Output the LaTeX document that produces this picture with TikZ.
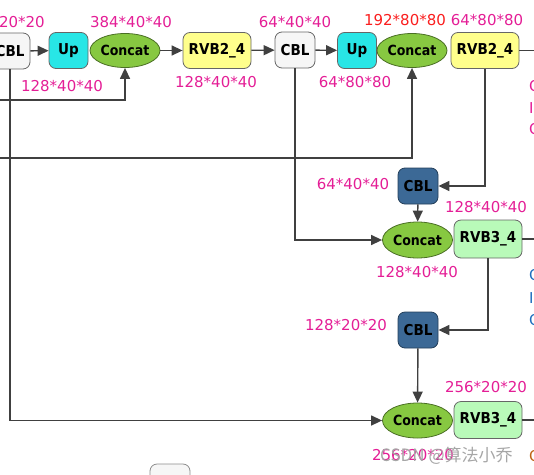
\documentclass[tikz,border=0pt]{standalone}
\usepackage{fontspec}
\setmainfont{DejaVu Sans}
\newfontfamily\nodefont[BoldFont={DejaVu Sans Condensed Bold}]{DejaVu Sans Condensed}
\newfontfamily\cjkfont{Noto Sans CJK SC}
\usetikzlibrary{arrows.meta,shapes.geometric}
\definecolor{lblmag}{RGB}{228,30,150}
\definecolor{lblred}{RGB}{250,30,30}
\definecolor{lblblue}{RGB}{30,110,190}
\definecolor{lblorange}{RGB}{190,100,20}
\definecolor{upcyan}{RGB}{40,230,230}
\definecolor{catgreen}{RGB}{135,200,65}
\definecolor{rvbyellow}{RGB}{255,255,140}
\definecolor{rvbgreen}{RGB}{185,250,185}
\definecolor{cblblue}{RGB}{60,105,150}
\definecolor{cblwhite}{RGB}{246,246,246}
\definecolor{linegray}{RGB}{64,64,64}
\tikzset{
  x=1pt,y=-1pt,
  blk/.style={draw=black!60,line width=0.8pt,rounded corners=7pt,minimum width=40pt,minimum height=36pt,inner sep=0pt,font=\nodefont\fontsize{15}{15}\selectfont\bfseries},
  cblbox/.style={blk,fill=cblwhite},
  cbldark/.style={blk,fill=cblblue,draw=cblblue!60!black},
  upbox/.style={blk,fill=upcyan,minimum width=39pt},
  rvbA/.style={blk,fill=rvbyellow,minimum width=68pt},
  rvbB/.style={blk,fill=rvbgreen,minimum width=68pt,minimum height=38pt},
  catell/.style={ellipse,draw=catgreen!55!black,line width=0.8pt,fill=catgreen,minimum width=70pt,minimum height=34pt,inner sep=0pt,font=\nodefont\fontsize{14}{14}\selectfont\bfseries},
  lbl/.style={text=lblmag,font=\fontsize{15}{15}\selectfont,inner sep=0pt},
  conn/.style={draw=linegray,line width=1.4pt,-{Triangle[length=11pt,width=10pt]}},
}
\begin{document}
\begin{tikzpicture}
\useasboundingbox (0,0) rectangle (534,474);
% top row
\node[cblbox] (cbl1) at (10,51) {CBL};
\node[upbox] (up1) at (68.5,50.5) {Up};
\node[catell] (cat1) at (125,50.5) {Concat};
\node[rvbA] (rvb1) at (217,50.5) {RVB2\_4};
\node[cblbox] (cbl2) at (295,50) {CBL};
\node[upbox] (up2) at (357,50.5) {Up};
\node[catell] (cat2) at (412,50.5) {Concat};
\node[rvbA] (rvb2) at (485,50.5) {RVB2\_4};
% middle
\node[cbldark] (cbl3) at (418,186) {CBL};
\node[catell,minimum height=36pt] (cat3) at (417.5,240) {Concat};
\node[rvbB] (rvb3) at (488,239) {RVB3\_4};
% bottom
\node[cbldark] (cbl4) at (418,330) {CBL};
\node[catell,minimum height=35pt] (cat4) at (417.5,420.5) {Concat};
\node[rvbB,minimum height=37pt] (rvb4) at (488,420) {RVB3\_4};
\node[cblbox,draw=black!45] (cbl5) at (170,482) {CBL};
% labels
\node[lbl,anchor=east] (l1) at (45,22) {256*20*20};
\node[lbl] (l2) at (131,22) {384*40*40};
\node[lbl] (l3) at (62,86) {128*40*40};
\node[lbl] (l4) at (216,82) {128*40*40};
\node[lbl] (l5) at (295,22) {64*40*40};
\node[lbl,text=lblred] (l6) at (405,20) {192*80*80};
\node[lbl] (l7) at (487,20) {64*80*80};
\node[lbl] (l8) at (355,82) {64*80*80};
\node[lbl] (l9) at (353,184) {64*40*40};
\node[lbl] (l10) at (486,207) {128*40*40};
\node[lbl] (l11) at (417,272) {128*40*40};
\node[lbl] (l12) at (346,325) {128*20*20};
\node[lbl] (l13) at (486,387) {256*20*20};
\node[lbl] (l14) at (413,455) {256*20*20};
\node[text=black!35,font=\cjkfont\fontsize{17}{17}\selectfont,inner sep=0pt,anchor=west] (wm) at (380,456) {CSDN @算法小乔};
% right edge clipped annotations
\node[lbl,anchor=west] (r1) at (529,86) {C};
\node[lbl,anchor=west] (r2) at (529,108) {I};
\node[lbl,anchor=west] (r3) at (529,129) {C};
\node[lbl,text=lblblue,anchor=west] (r4) at (529,275) {C};
\node[lbl,text=lblblue,anchor=west] (r5) at (529,298) {I};
\node[lbl,text=lblblue,anchor=west] (r6) at (529,320) {C};
\node[lbl,text=lblorange,anchor=west] (r7) at (529,456) {C};
% off-canvas coordinates
\coordinate (in1) at (-10,100);
\coordinate (in2) at (-10,158);
\coordinate (out1) at (545,50.5);
\coordinate (out2) at (545,239);
\coordinate (out3) at (545,420);
% connectors
\draw[conn] (cbl1) -- (up1);
\draw[conn] (cat1) -- (rvb1);
\draw[conn] (rvb1) -- (cbl2);
\draw[conn] (cbl2) -- (up2);
\draw[conn] (rvb2) -- (out1);
\draw[conn] (in1) -| (cat1.south);
\draw[conn] (in2) -| (cat2.south);
\draw[conn] (cbl2.south) |- (cat3.west);
\draw[conn] (rvb2.south) |- (cbl3.east);
\draw[conn] (cbl3) -- (cat3);
\draw[conn] (rvb3) -- (out2);
\draw[conn] (rvb3.south) |- (cbl4.east);
\draw[conn] (cbl4) -- (cat4);
\draw[conn] (cbl1.south) |- (cat4.west);
\draw[conn] (rvb4) -- (out3);
\end{tikzpicture}
\end{document}
